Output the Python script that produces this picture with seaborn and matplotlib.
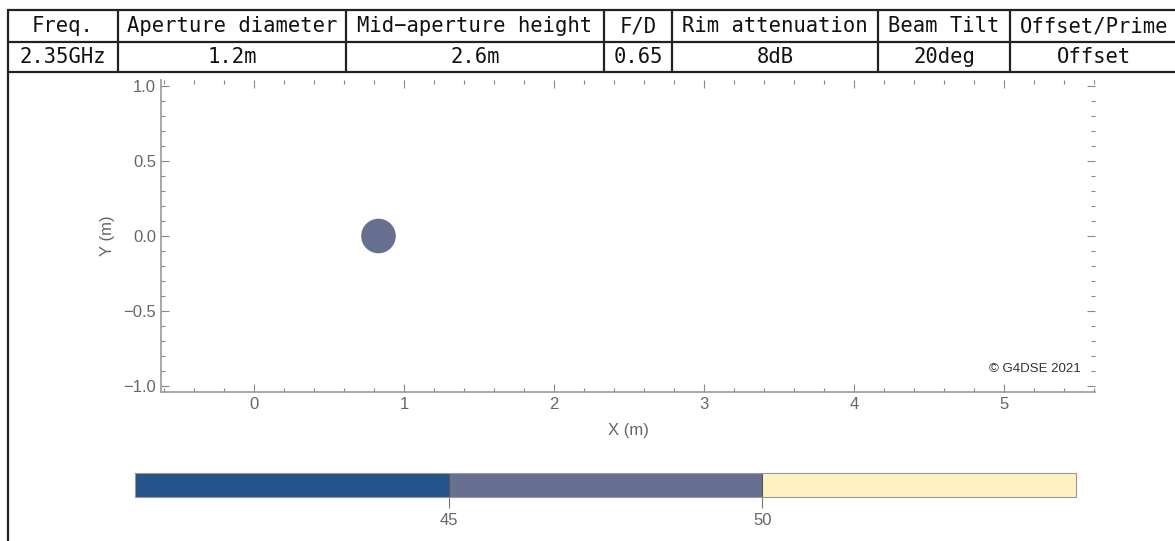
import numpy as np
import pandas as pd
import matplotlib
matplotlib.use('Agg')
import matplotlib.pyplot as plt
import seaborn as sns
from matplotlib.colors import ListedColormap, BoundaryNorm
from matplotlib.ticker import MultipleLocator

# header table
headers = ['Freq.', 'Aperture diameter', 'Mid\u2212aperture height', 'F/D',
           'Rim attenuation', 'Beam Tilt', 'Offset/Prime']
values = ['2.35GHz', '1.2m', '2.6m', '0.65', '8dB', '20deg', 'Offset']
col_edges = [8, 118, 346, 604, 672, 878, 1010, 1178]

# aperture points (x, y in m) and their level
pt_x = [0.83]
pt_y = [0.0]
pt_level = [47.5]

# colour legend
bounds = [40, 45, 50, 55]
band_colors = ['#24548a', '#687092', '#fff2c0']
cbar_ticks = [45, 50]

sns.set_theme(style='white')
plt.rcParams['font.family'] = ['Liberation Sans', 'DejaVu Sans']

W, H = 1175, 541
fig = plt.figure(figsize=(W / 100, H / 100), dpi=100)

# table drawn in pixel coords
tab = fig.add_axes([0, 0, 1, 1])
tab.set_xlim(0, W)
tab.set_ylim(H, 0)
tab.axis('off')
line_kw = dict(color='#222222', lw=1.6)
for yy in [10, 42, 72]:
    tab.plot([8, W], [yy, yy], **line_kw)
for xx in col_edges[:-1]:
    tab.plot([xx, xx], [10, 72], **line_kw)
tab.plot([8, 8], [72, H], **line_kw)
for i in range(len(headers)):
    cx = (col_edges[i] + col_edges[i + 1]) / 2
    tab.text(cx, 26, headers[i], ha='center', va='center', fontsize=14.8,
             family='DejaVu Sans Mono', color='#111111')
    tab.text(cx, 57, values[i], ha='center', va='center', fontsize=14.8,
             family='DejaVu Sans Mono', color='#111111')

# main plot
ax = fig.add_axes([161 / W, (H - 392) / H, 934 / W, 312 / H])
cmap = ListedColormap(band_colors)
norm = BoundaryNorm(bounds, cmap.N)
df = pd.DataFrame({'x': pt_x, 'y': pt_y, 'level': pt_level})
sns.scatterplot(data=df, x='x', y='y', color=cmap(norm(df['level'].iloc[0])),
                s=620, edgecolor='none', ax=ax)
ax.set_xlim(-0.62, 5.607)
ax.set_ylim(-1.04, 1.04)
ax.xaxis.set_major_locator(MultipleLocator(1))
ax.xaxis.set_minor_locator(MultipleLocator(0.2))
ax.yaxis.set_major_locator(MultipleLocator(0.5))
ax.yaxis.set_minor_locator(MultipleLocator(0.1))
ax.yaxis.set_major_formatter(plt.FuncFormatter(lambda v, p: f'{v:.1f}'.replace('-', '\u2212')))
ax.tick_params(which='both', direction='in', top=True, right=True,
               bottom=True, left=True, color='#888888', labelcolor='#666666',
               labelsize=12, width=0.8)
ax.tick_params(which='major', length=6)
ax.tick_params(which='minor', length=3)
for s in ['top', 'right']:
    ax.spines[s].set_visible(False)
for s in ['left', 'bottom']:
    ax.spines[s].set_color('#999999')
    ax.spines[s].set_linewidth(1.2)
ax.set_xlabel('X (m)', color='#666666', fontsize=12, labelpad=8)
ax.set_ylabel('Y (m)', color='#666666', fontsize=12, labelpad=6)
ax.text(0.985, 0.075, '\u00a9 G4DSE 2021', transform=ax.transAxes, ha='right',
        va='center', fontsize=9.5, color='#333333')

# colour bar
cax = fig.add_axes([135 / W, (H - 497) / H, 941 / W, 24 / H])
sm = matplotlib.cm.ScalarMappable(norm=norm, cmap=cmap)
cb = fig.colorbar(sm, cax=cax, orientation='horizontal', ticks=cbar_ticks)
cb.minorticks_off()
cb.outline.set_edgecolor('#999999')
cb.outline.set_linewidth(0.8)
cax.tick_params(length=8, width=0.8, color='#777777', labelcolor='#666666',
                labelsize=12, direction='out')
for b in bounds[1:-1]:
    cax.axvline(b, color='#555555', lw=0.8)

fig.savefig('out.png', dpi=100)
